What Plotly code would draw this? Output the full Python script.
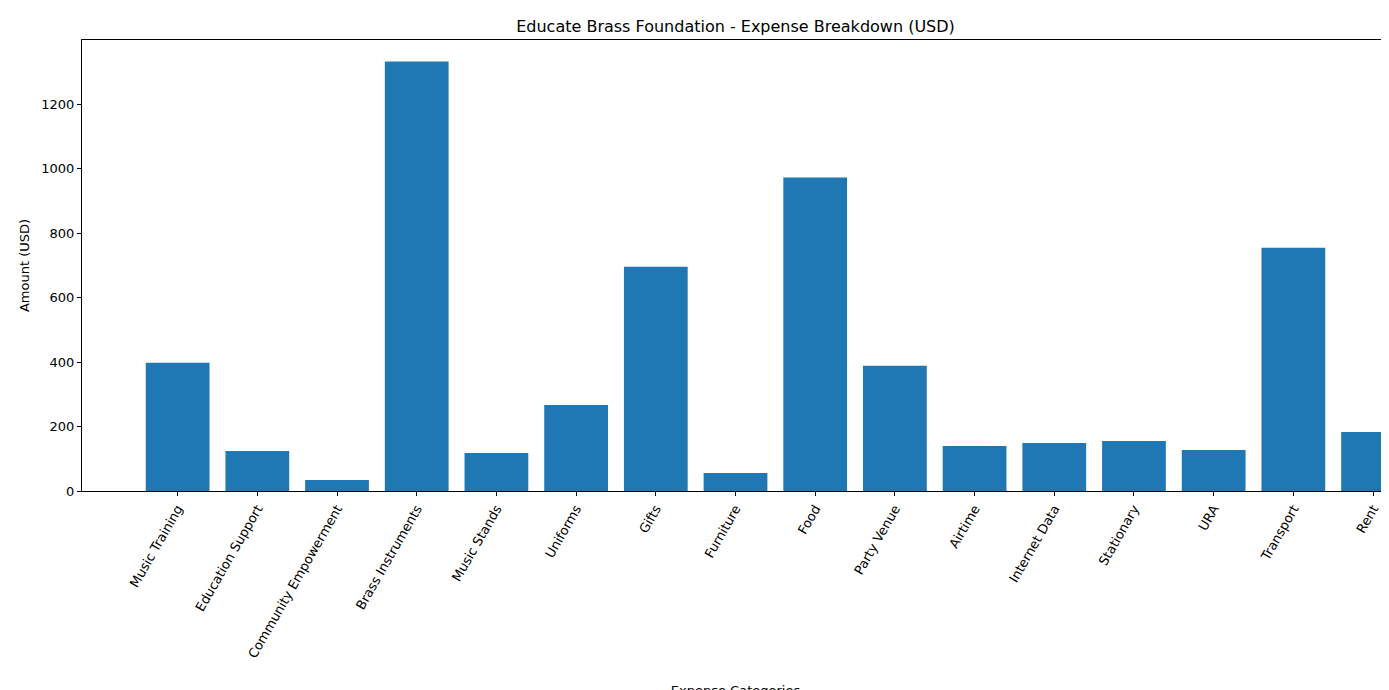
import plotly.graph_objects as go

categories = ["Music Training", "Education Support", "Community Empowerment", "Brass Instruments",
              "Music Stands", "Uniforms", "Gifts", "Furniture", "Food", "Party Venue", "Airtime",
              "Internet Data", "Stationary", "URA", "Transport", "Rent"]
amounts = [398, 124, 34, 1333, 118, 267, 696, 56, 973, 389, 140, 149, 155, 127, 755, 183]

fig = go.Figure(go.Bar(x=list(range(len(categories))), y=amounts, marker_color="#1f77b4",
                       marker_line_width=0, width=0.8))
axis_common = dict(showline=True, linecolor="black", linewidth=1, mirror=True, ticks="outside",
                   ticklen=4, tickcolor="black", showgrid=False, zeroline=False, automargin=False,
                   tickfont=dict(size=13))
fig.update_layout(
    width=1389, height=690,
    margin=dict(l=74, r=8, t=32, b=207, autoexpand=False),
    plot_bgcolor="white", paper_bgcolor="white",
    font=dict(family="DejaVu Sans", size=13, color="black"),
    title=dict(text="Educate Brass Foundation - Expense Breakdown (USD)", x=0.5, xref="paper",
               y=1 - 18 / 690, yanchor="middle", font=dict(size=16)),
    bargap=0.2, showlegend=False,
)
fig.update_xaxes(range=[-1.2, len(categories) - 0.8], tickmode="array",
                 tickvals=list(range(len(categories))), ticktext=categories, tickangle=-60,
                 title=dict(text="Expense Categories", standoff=170, font=dict(size=13)), **axis_common)
fig.update_yaxes(range=[0, 1400], tickvals=[0, 200, 400, 600, 800, 1000, 1200],
                 title=dict(text="Amount (USD)", standoff=8, font=dict(size=13)), **axis_common)
fig.write_html("out.html")
